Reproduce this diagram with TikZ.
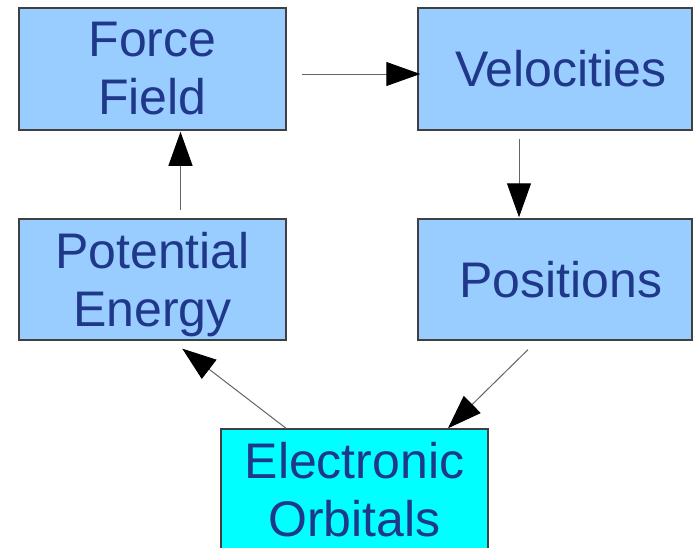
\documentclass[tikz,border=0pt]{standalone}
\usepackage{fontspec}
\setmainfont{Liberation Sans}
\usetikzlibrary{arrows.meta}
\definecolor{boxblue}{RGB}{153,204,255}
\definecolor{boxcyan}{RGB}{0,255,255}
\definecolor{txtblue}{RGB}{31,56,138}
\definecolor{edgegray}{RGB}{64,64,64}
\definecolor{linegray}{RGB}{100,100,100}
\newcommand{\nodepth}[1]{\raisebox{0pt}[\height][0pt]{#1}}
\begin{document}
\begin{tikzpicture}[x=1pt,y=-1pt,
  box/.style={draw=edgegray, line width=1.5pt, fill=boxblue, inner sep=0pt,
    align=center, text=txtblue, font=\fontsize{50}{58}\selectfont},
  conn/.style={draw=linegray, line width=1pt,
    -{Triangle[length=34pt,width=24pt,color=black]}}]
\useasboundingbox (0,0) rectangle (693,547);
\node[box, minimum width=267pt, minimum height=122pt] (ff) at (152.5,69) {Force\\Field};
\node[box, minimum width=274pt, minimum height=122pt] (vel) at (555,69) {\hspace*{12pt}Velocities};
\node[box, minimum width=267pt, minimum height=121pt] (pe) at (152.5,279.5) {Potential\\\nodepth{Energy}};
\node[box, minimum width=274pt, minimum height=121pt] (pos) at (555,279.5) {\hspace*{12pt}Positions};
\node[box, fill=boxcyan, minimum width=267pt, minimum height=122pt] (eo) at (354.5,490) {Electronic\\Orbitals};
\draw[conn, shorten <=15pt] ([yshift=-5pt]ff.east) -- ([yshift=-5pt,xshift=3pt]vel.west);
\draw[conn, shorten <=8pt, shorten >=1pt] ([xshift=-36pt]vel.south) -- ([xshift=-36pt]pos.north);
\draw[conn, shorten <=12.7pt] ([xshift=-18pt]pos.south) -- ([xshift=93.5pt]eo.north);
\draw[conn, shorten >=12.9pt] ([xshift=-68.5pt]eo.north) -- ([xshift=19.5pt]pe.south);
\draw[conn, shorten <=8pt, shorten >=1pt] ([xshift=28pt]pe.north) -- ([xshift=28pt]ff.south);
\end{tikzpicture}
\end{document}
